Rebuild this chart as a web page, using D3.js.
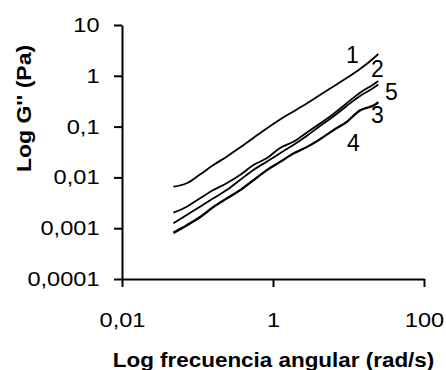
<!DOCTYPE html>
<html>
<head>
<meta charset="utf-8">
<script src="https://cdn.jsdelivr.net/npm/d3@7"></script>
<style>
  html, body { margin: 0; padding: 0; background: #fff; }
  svg { display: block; }
  text { font-family: "Liberation Sans", Arial, Helvetica, sans-serif; fill: #000; }
</style>
</head>
<body>
<svg id="chart" width="446" height="370"></svg>
<script>
// ---- data ----
const frequency = [0.048, 0.072, 0.108, 0.162, 0.243, 0.365, 0.549, 0.824, 1.24, 1.86, 2.79, 4.19, 6.30, 9.46, 14.2, 21.3, 24.8];
const series1 = [0.00656, 0.00766, 0.0114, 0.0175, 0.0255, 0.0386, 0.0597, 0.0918, 0.138, 0.198, 0.285, 0.419, 0.615, 0.906, 1.36, 2.19, 2.69];
const series2 = [0.00202, 0.00265, 0.00388, 0.00565, 0.00766, 0.0111, 0.0175, 0.0238, 0.0379, 0.0504, 0.0759, 0.115, 0.177, 0.288, 0.465, 0.674, 0.790];
const series3 = [0.000834, 0.00116, 0.00168, 0.00265, 0.00388, 0.00565, 0.00889, 0.0140, 0.0204, 0.0298, 0.0397, 0.0570, 0.0857, 0.125, 0.212, 0.255, 0.305];
const series4 = [0.000800, 0.00112, 0.00162, 0.00258, 0.00380, 0.00550, 0.00870, 0.0137, 0.0200, 0.0292, 0.0392, 0.0560, 0.0840, 0.122, 0.205, 0.262, 0.290];
const series5 = [0.00125, 0.00182, 0.00265, 0.00388, 0.00565, 0.00889, 0.0140, 0.0204, 0.0298, 0.0434, 0.0653, 0.103, 0.158, 0.255, 0.400, 0.575, 0.674];
const seriesNames = ["1", "2", "3", "4", "5"];
const xTicks = [0.01, 1, 100];
const xTickLabels = ["0,01", "1", "100"];
const yTicks = [0.0001, 0.001, 0.01, 0.1, 1, 10];
const yTickLabels = ["0,0001", "0,001", "0,01", "0,1", "1", "10"];
const xTitle = "Log frecuencia angular (rad/s)";
const yTitle = "Log G'' (Pa)";

// ---- layout ----
const svg = d3.select("#chart");
const mLeft = 122, mRight = 424, mTop = 25, mBottom = 279;
const stretch = 1.15;

const x = d3.scaleLog().domain([0.01, 100]).range([mLeft, mRight]);
const y = d3.scaleLog().domain([0.0001, 10]).range([mBottom, mTop]);

function widen(sel) {
  sel.each(function () {
    const w = this.getComputedTextLength();
    d3.select(this).attr("textLength", w * stretch).attr("lengthAdjust", "spacingAndGlyphs");
  });
}

// y axis
const yAxis = d3.axisLeft(y).tickValues(yTicks)
  .tickFormat((d, i) => yTickLabels[i])
  .tickSize(8).tickSizeOuter(0).tickPadding(14.5);
const gy = svg.append("g").attr("transform", `translate(${mLeft},0)`).call(yAxis);

// x axis
const xAxis = d3.axisBottom(x).tickValues(xTicks)
  .tickFormat((d, i) => xTickLabels[i])
  .tickSize(8).tickSizeOuter(0).tickPadding(25);
const gx = svg.append("g").attr("transform", `translate(0,${mBottom})`).call(xAxis);

[gx, gy].forEach(g => {
  g.select(".domain").attr("stroke", "#000").attr("stroke-width", 2);
  g.selectAll(".tick line").attr("stroke", "#000").attr("stroke-width", 2);
  g.selectAll(".tick text").attr("font-size", 20.5).attr("font-family", null).attr("fill", "#000");
});
widen(gy.selectAll(".tick text"));
widen(gx.selectAll(".tick text"));

// titles
const xt = svg.append("text")
  .attr("x", 273.5).attr("y", 367)
  .attr("text-anchor", "middle")
  .attr("font-size", 19.5).attr("font-weight", "bold")
  .text(xTitle);
widen(xt);

const yt = svg.append("text")
  .attr("transform", `translate(31,108.5) rotate(-90)`)
  .attr("text-anchor", "middle")
  .attr("font-size", 20).attr("font-weight", "bold")
  .text(yTitle);
widen(yt);

// lines
const allSeries = [series1, series2, series3, series4, series5];
const line = d3.line()
  .x(d => x(d[0]))
  .y(d => y(d[1]))
  .curve(d3.curveMonotoneX);

allSeries.forEach(s => {
  const pts = frequency.map((f, i) => [f, s[i]]);
  svg.append("path")
    .datum(pts)
    .attr("d", line)
    .attr("fill", "none")
    .attr("stroke", "#000")
    .attr("stroke-width", 1.8)
    .attr("stroke-linejoin", "round");
});

// series labels, placed relative to each series' last point
const labelOffsets = [[-26, 1], [-1, -12], [-1, 13], [-25, 40], [13, 7.5]];
allSeries.forEach((s, i) => {
  const n = frequency.length - 1;
  const px = x(frequency[n]) + labelOffsets[i][0];
  const py = y(s[n]) + labelOffsets[i][1];
  svg.append("text")
    .attr("x", px).attr("y", py)
    .attr("text-anchor", "middle")
    .attr("dominant-baseline", "central")
    .attr("font-family", "'Liberation Sans Narrow', 'DejaVu Sans Condensed', Arial, sans-serif")
    .attr("font-size", 23)
    .text(seriesNames[i]);
});
</script>
</body>
</html>
